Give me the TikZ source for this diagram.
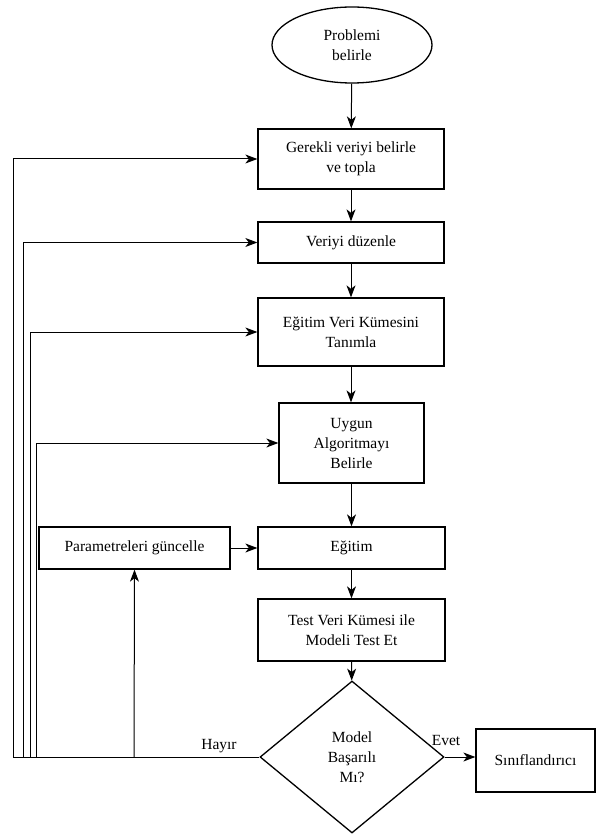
\documentclass[tikz,border=0pt]{standalone}
\usepackage{fontspec}
\setmainfont{Liberation Serif}
\usetikzlibrary{shapes.geometric,arrows.meta}
\begin{document}
\begin{tikzpicture}[x=1pt,y=-1pt,
  every node/.style={font=\fontsize{15.5}{20}\selectfont},
  box/.style={draw,line width=1.3pt,rectangle,align=center,inner sep=0pt},
  conn/.style={line width=1pt},
  arr/.style={conn,-{Stealth[length=12pt,width=9pt,inset=3.5pt]}}]
\useasboundingbox (0,0) rectangle (596,834);
\node[draw,line width=1.3pt,ellipse,minimum width=160,minimum height=76,inner sep=0pt,align=center] (e) at (352,45) {Problemi\\belirle};
\node[box,minimum width=186,minimum height=60] (b1) at (351,159) {Gerekli veriyi belirle\\ve topla};
\node[box,minimum width=186,minimum height=41] (b2) at (351,242.5) {Veriyi düzenle};
\node[box,minimum width=186,minimum height=68] (b3) at (351,332) {Eğitim Veri Kümesini\\Tanımla};
\node[box,minimum width=145,minimum height=80] (b4) at (351.5,443) {Uygun\\Algoritmayı\\Belirle};
\node[box,minimum width=187,minimum height=42] (b5) at (351.5,548) {Eğitim};
\node[box,minimum width=187,minimum height=62] (b6) at (351.5,630) {Test Veri Kümesi ile\\Modeli Test Et};
\node[draw,line width=1.3pt,diamond,minimum width=184,minimum height=152,inner sep=0pt,align=center] (d) at (352,757) {Model\\Başarılı\\Mı?};
\node[box,minimum width=119,minimum height=63] (s) at (535.5,760.5) {Sınıflandırıcı};
\node[box,minimum width=191,minimum height=42] (p) at (134.5,548) {Parametreleri güncelle};
\node[anchor=south,inner sep=0pt] (evet) at (446,746) {Evet};
\node[anchor=south,inner sep=0pt] (hayir) at (219,753) {Hayır};
\coordinate (c1) at (13,757);
\coordinate (c2) at (23,757);
\coordinate (c3) at (30,757);
\coordinate (c4) at (36,757);
\coordinate (c5) at (134,757);
\draw[arr] (e) -- (b1);
\draw[arr] (b1) -- (b2);
\draw[arr] (b2) -- (b3);
\draw[arr] (b3) -- (b3 |- b4.north);
\draw[arr] (b4) -- (b5);
\draw[arr] (b5) -- (b6);
\draw[arr] (b6) -- (d);
\draw[arr] (d.east) -- (s.west |- d.east);
\draw[arr] (p) -- (b5);
\draw[conn] (d.west) -- (c1);
\draw[arr] (c1) |- (b1.west);
\draw[arr] (c2) |- (b2.west);
\draw[arr] (c3) |- (b3.west);
\draw[arr] (c4) |- (b4.west);
\draw[arr] (c5) -- (p.south);
\end{tikzpicture}
\end{document}
